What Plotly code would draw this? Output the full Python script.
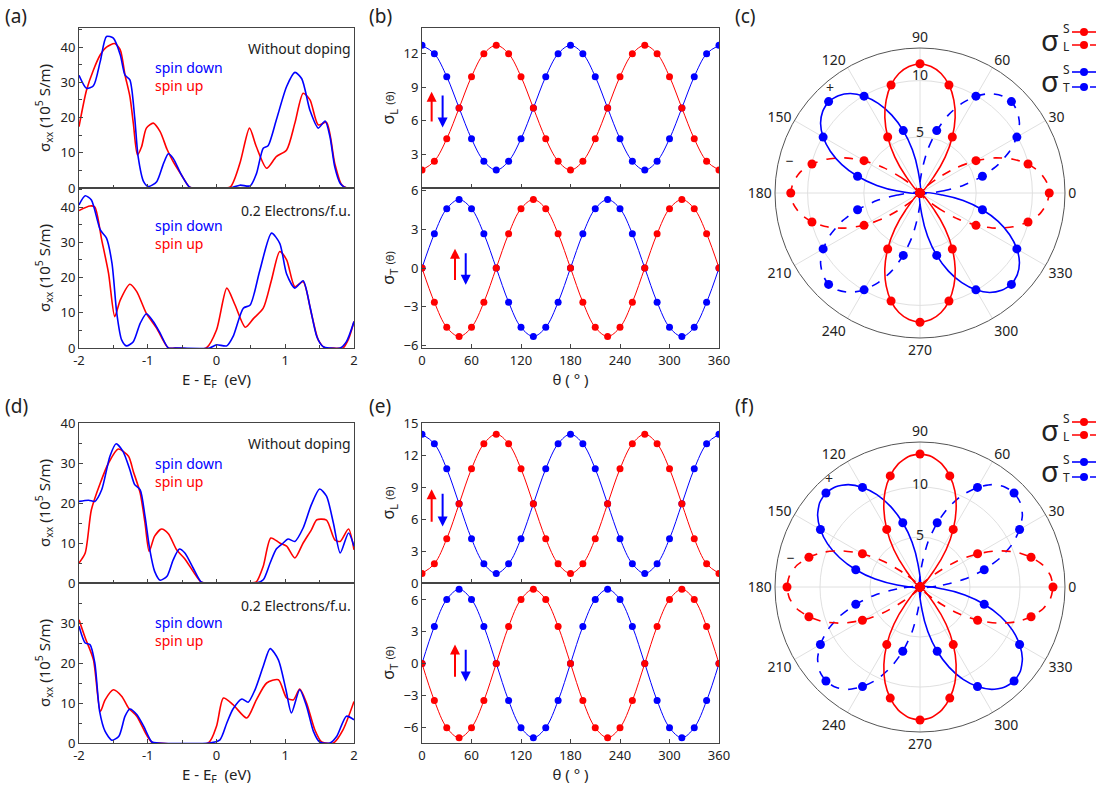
import plotly.graph_objects as go

W, H = 1112, 793
RED = "rgb(255,0,0)"
BLUE = "rgb(0,0,255)"
FONT = "Noto Sans"
TXT = "#222"

# ---------------- panel (a) data ----------------
a_top_down_E = [-2, -1.89, -1.79, -1.69, -1.6, -1.5, -1.4, -1.33, -1.26, -1.19, -1.14, -1.06, -0.99, -0.87, -0.77,
                -0.70, -0.63, -0.51, -0.39, -0.3, 0.0, 0.2, 0.34, 0.49, 0.58, 0.68, 0.75, 0.87, 1.02, 1.14, 1.24,
                1.36, 1.48, 1.58, 1.65, 1.72, 1.80, 1.89, 2]
a_top_down = [32, 28.3, 29, 36, 43, 42.5, 37.8, 32, 30.7, 20, 8.9, 1.8, 0.4, 1.8, 7,
              9.7, 8.4, 3.7, 0.2, 0, 0, 0, 0.8, 0.6, 4, 11.3, 12, 19.3, 28.8, 32.8, 31,
              22, 17, 19, 14.6, 6, 1.3, 0, 0]
a_top_up_E = [-2, -1.89, -1.79, -1.69, -1.6, -1.48, -1.40, -1.33, -1.26, -1.21, -1.15, -1.09, -1.02, -0.92, -0.82,
              -0.72, -0.63, -0.51, -0.39, -0.3, 0.0, 0.2, 0.34, 0.48, 0.58, 0.73, 0.87, 1.02, 1.14, 1.26, 1.36,
              1.48, 1.60, 1.72, 1.82, 1.9, 2]
a_top_up = [17.4, 27.8, 33.5, 37.8, 40, 41, 39.2, 32, 26, 18.4, 9.4, 11.7, 17, 18.4, 16,
            11, 7.5, 3.7, 0.2, 0, 0, 0.3, 7, 17, 11.7, 5.6, 8.9, 10.8, 18.4, 26.9, 25,
            17.9, 18.6, 7, 0.9, 0, 0]
a_bot_down_E = [-2, -1.91, -1.82, -1.69, -1.6, -1.52, -1.45, -1.38, -1.31, -1.21, -1.11, -1.02, -0.92, -0.82,
                -0.70, -0.6, -0.1, 0, 0.15, 0.24, 0.39, 0.49, 0.63, 0.80, 0.92, 1.02, 1.14, 1.26, 1.36, 1.46,
                1.55, 1.65, 1.80, 1.89, 2]
a_bot_down = [40.6, 43.2, 42, 33.5, 31.2, 24, 9.8, 2.3, 0.6, 1.8, 7, 9.7, 7.5, 4.2,
              0, 0, 0, 0.9, 0.6, 3.2, 11.3, 12.2, 22, 32.6, 29.7, 21, 17, 19.1, 11.7, 3.2,
              0.4, 0, 0, 1.8, 7.5]
a_bot_up_E = [-2, -1.84, -1.77, -1.67, -1.57, -1.48, -1.40, -1.26, -1.16, -1.02, -0.87, -0.70, -0.6, -0.15,
              0, 0.15, 0.27, 0.42, 0.54, 0.68, 0.80, 0.92, 1.02, 1.14, 1.26, 1.38, 1.48, 1.58, 1.7, 1.84,
              1.92, 2]
a_bot_up = [39, 40.3, 40, 30.7, 21.2, 8.9, 13.6, 18.1, 16, 9.8, 5.6, 0, 0, 0,
            5.1, 17, 12.2, 5.9, 8.4, 11.3, 19.3, 27.4, 25, 17.4, 18.8, 9.8, 2.3, 0, 0, 0,
            2.5, 7.5]

# ---------------- panel (d) data ----------------
d_top_down_E = [-2, -1.86, -1.77, -1.67, -1.55, -1.46, -1.36, -1.26, -1.19, -1.11, -1.04, -0.97, -0.90, -0.82,
                -0.72, -0.63, -0.54, -0.46, -0.34, -0.22, -0.1, 0.5, 0.58, 0.68, 0.78, 0.87, 0.97, 1.04, 1.14,
                1.26, 1.38, 1.50, 1.60, 1.70, 1.80, 1.92, 2]
d_top_down = [20.4, 20.7, 20.4, 23.3, 31.7, 34.8, 32.9, 28.3, 24.6, 23.3, 16.7, 8.3, 2.9, 0.7,
              1.7, 5.8, 8.5, 7.5, 3.75, 0.2, 0, 0, 0, 0.8, 5, 8.5, 10, 11, 10.4,
              13.75, 19.6, 23.5, 21.7, 15, 7.5, 12.5, 9.2]
d_top_up_E = [-2, -1.91, -1.82, -1.69, -1.57, -1.43, -1.28, -1.21, -1.11, -1.04, -0.98, -0.90, -0.80, -0.70,
              -0.58, -0.46, -0.34, -0.22, -0.1, 0.5, 0.58, 0.68, 0.79, 0.92, 1.02, 1.14, 1.26, 1.38, 1.46,
              1.60, 1.72, 1.80, 1.92, 2]
d_top_up = [5, 7.5, 18.3, 25, 30, 33.5, 31.7, 27.9, 22.5, 15, 7.9, 11.7, 13.5, 12.3,
            8.3, 6, 2.9, 0.2, 0, 0, 0.3, 4.2, 11.25, 10, 9.2, 6.25, 10, 13.3, 15.8,
            15.7, 10.8, 10.4, 13.5, 8.3]
d_bot_down_E = [-2, -1.91, -1.84, -1.77, -1.70, -1.62, -1.52, -1.42, -1.33, -1.26, -1.16, -1.06, -0.94, -0.85,
                -0.1, 0.05, 0.15, 0.24, 0.37, 0.46, 0.56, 0.68, 0.78, 0.90, 1.01, 1.09, 1.21, 1.31, 1.41,
                1.50, 1.65, 1.75, 1.89, 2]
d_bot_down = [29.2, 25, 24.6, 20, 7.9, 2.9, 0.7, 1.7, 6.7, 8.5, 7.1, 4.2, 0.25, 0,
              0, 0.8, 5, 8.5, 11, 10.2, 13.3, 19.2, 23.6, 20.8, 13.3, 7.5, 13.3, 9.2, 2.9,
              0.25, 0, 1.7, 6.7, 5.8]
d_bot_up_E = [-2, -1.91, -1.79, -1.69, -1.62, -1.50, -1.38, -1.28, -1.16, -1.02, -0.94, -0.85, -0.12, 0,
              0.10, 0.24, 0.44, 0.58, 0.73, 0.90, 1.02, 1.12, 1.21, 1.31, 1.43, 1.53, 1.70, 1.84, 2]
d_bot_up = [30.8, 26.3, 20.8, 7.9, 10.8, 13.3, 11.7, 8.75, 6.7, 2.1, 0.2, 0, 0, 4.2,
            11.25, 9.6, 6.25, 10.8, 15, 15.8, 11.25, 10.8, 13.5, 10, 3.3, 0.25, 0, 3.3, 10.4]

# ---------------- panels (b), (e) data ----------------
theta = [0, 15, 30, 45, 60, 75, 90, 105, 120, 135, 150, 165, 180, 195, 210, 225, 240, 255, 270, 285,
         300, 315, 330, 345, 360]
b_L_down = [12.75, 12.0, 9.95, 7.15, 4.4, 2.4, 1.6, 2.4, 4.4, 7.15, 9.95, 12.0, 12.75, 12.0, 9.95, 7.15,
            4.4, 2.4, 1.6, 2.4, 4.4, 7.15, 9.95, 12.0, 12.75]
b_L_up = [1.6, 2.4, 4.4, 7.15, 9.95, 12.0, 12.75, 12.0, 9.95, 7.15, 4.4, 2.4, 1.6, 2.4, 4.4, 7.15,
          9.95, 12.0, 12.75, 12.0, 9.95, 7.15, 4.4, 2.4, 1.6]
b_T_down = [0, 2.65, 4.6, 5.3, 4.6, 2.65, 0, -2.65, -4.6, -5.3, -4.6, -2.65, 0, 2.65, 4.6, 5.3,
            4.6, 2.65, 0, -2.65, -4.6, -5.3, -4.6, -2.65, 0]
b_T_up = [0, -2.65, -4.6, -5.3, -4.6, -2.65, 0, 2.65, 4.6, 5.3, 4.6, 2.65, 0, -2.65, -4.6, -5.3,
          -4.6, -2.65, 0, 2.65, 4.6, 5.3, 4.6, 2.65, 0]
e_L_down = [13.95, 13.05, 10.7, 7.42, 4.15, 1.8, 0.9, 1.8, 4.15, 7.42, 10.7, 13.05, 13.95, 13.05, 10.7,
            7.42, 4.15, 1.8, 0.9, 1.8, 4.15, 7.42, 10.7, 13.05, 13.95]
e_L_up = [0.9, 1.8, 4.15, 7.42, 10.7, 13.05, 13.95, 13.05, 10.7, 7.42, 4.15, 1.8, 0.9, 1.8, 4.15,
          7.42, 10.7, 13.05, 13.95, 13.05, 10.7, 7.42, 4.15, 1.8, 0.9]
e_T_down = [0, 3.5, 6.05, 7.0, 6.05, 3.5, 0, -3.5, -6.05, -7.0, -6.05, -3.5, 0, 3.5, 6.05, 7.0,
            6.05, 3.5, 0, -3.5, -6.05, -7.0, -6.05, -3.5, 0]
e_T_up = [0, -3.5, -6.05, -7.0, -6.05, -3.5, 0, 3.5, 6.05, 7.0, 6.05, 3.5, 0, -3.5, -6.05, -7.0,
          -6.05, -3.5, 0, 3.5, 6.05, 7.0, 6.05, 3.5, 0]

# ---------------- panels (c), (f) polar data ----------------
# lobe centre directions (deg) for each kind of lobe
lobe_centres = {"L_pos": (90, 270), "L_neg": (0, 180), "T_pos": (135, 315), "T_neg": (45, 225)}
# marker radii read at -45..45 deg about a lobe centre, every 15 deg
c_marker_r = [0, 5.75, 9.95, 11.5, 9.95, 5.75, 0]
f_marker_r = [0, 6.65, 11.5, 13.3, 11.5, 6.65, 0]
# curve radii read at -45..45 deg about a lobe centre, every 5 deg
c_curve_r = [0, 2.0, 3.9, 5.75, 7.4, 8.8, 9.95, 10.8, 11.3, 11.5, 11.3, 10.8, 9.95, 8.8, 7.4, 5.75, 3.9, 2.0, 0]
f_curve_r = [0, 2.3, 4.55, 6.65, 8.55, 10.2, 11.5, 12.5, 13.1, 13.3, 13.1, 12.5, 11.5, 10.2, 8.55, 6.65, 4.55,
             2.3, 0]
marker_offsets = [-45, -30, -15, 0, 15, 30, 45]
curve_offsets = [-45, -40, -35, -30, -25, -20, -15, -10, -5, 0, 5, 10, 15, 20, 25, 30, 35, 40, 45]
angular_ticks = [0, 30, 60, 90, 120, 150, 180, 210, 240, 270, 300, 330]

fig = go.Figure()


def px_x(x):
    return x / W


def px_y(y):
    return 1 - y / H


def curve(xs, ys, color, xa, ya, width=1.6):
    fig.add_trace(go.Scatter(x=xs, y=ys, mode="lines", xaxis=xa, yaxis=ya, showlegend=False,
                             line=dict(color=color, width=width, shape="spline", smoothing=0.7)))


def dots(xs, ys, color, xa, ya):
    fig.add_trace(go.Scatter(x=xs, y=ys, mode="lines+markers", xaxis=xa, yaxis=ya, showlegend=False,
                             line=dict(color=color, width=1, shape="spline", smoothing=1.0),
                             marker=dict(color=color, size=7)))


# (a)
curve(a_top_up_E, a_top_up, RED, "x", "y")
curve(a_top_down_E, a_top_down, BLUE, "x", "y")
curve(a_bot_up_E, a_bot_up, RED, "x2", "y2")
curve(a_bot_down_E, a_bot_down, BLUE, "x2", "y2")
# (d)
curve(d_top_up_E, d_top_up, RED, "x5", "y5")
curve(d_top_down_E, d_top_down, BLUE, "x5", "y5")
curve(d_bot_up_E, d_bot_up, RED, "x6", "y6")
curve(d_bot_down_E, d_bot_down, BLUE, "x6", "y6")
# (b)
dots(theta, b_L_down, BLUE, "x3", "y3")
dots(theta, b_L_up, RED, "x3", "y3")
dots(theta, b_T_down, BLUE, "x4", "y4")
dots(theta, b_T_up, RED, "x4", "y4")
# (e)
dots(theta, e_L_down, BLUE, "x7", "y7")
dots(theta, e_L_up, RED, "x7", "y7")
dots(theta, e_T_down, BLUE, "x8", "y8")
dots(theta, e_T_up, RED, "x8", "y8")


# polar
def lobe_pair(kind, curve_r, marker_r, color, dash, sub):
    c1, c2 = lobe_centres[kind]
    th_l, r_l, th_m, r_m = [], [], [], []
    for c in (c1, c2):
        th_l += [c + o for o in curve_offsets] + [None]
        r_l += list(curve_r) + [None]
        th_m += [c + o for o in marker_offsets]
        r_m += list(marker_r)
    fig.add_trace(go.Scatterpolar(r=r_l, theta=th_l, mode="lines", subplot=sub, showlegend=False,
                                  connectgaps=False,
                                  line=dict(color=color, width=1.6, dash=dash, shape="spline", smoothing=0.6)))
    fig.add_trace(go.Scatterpolar(r=r_m, theta=th_m, mode="markers", subplot=sub, showlegend=False,
                                  marker=dict(color=color, size=9)))


for sub, cr, mr in (("polar", c_curve_r, c_marker_r), ("polar2", f_curve_r, f_marker_r)):
    lobe_pair("T_neg", cr, mr, BLUE, "dash", sub)
    lobe_pair("T_pos", cr, mr, BLUE, "solid", sub)
    lobe_pair("L_neg", cr, mr, RED, "dash", sub)
    lobe_pair("L_pos", cr, mr, RED, "solid", sub)

fig.add_trace(go.Scatterpolar(r=[10.4, 5.3, 12.2, 11.9], theta=[90, 90, 131, 167], mode="text",
                              text=["10", "5", "+", "−"], subplot="polar", showlegend=False,
                              textfont=dict(size=14, color=TXT, family=FONT)))
fig.add_trace(go.Scatterpolar(r=[10.2, 5.1, 14.0, 13.2], theta=[90, 90, 130.5, 168], mode="text",
                              text=["10", "5", "+", "−"], subplot="polar2", showlegend=False,
                              textfont=dict(size=14, color=TXT, family=FONT)))

# ---------------- layout ----------------
axis_common = dict(showline=True, linecolor="#444", linewidth=1, mirror=True, ticks="inside", ticklen=4,
                   tickcolor="#444", showgrid=False, zeroline=False, automargin=False,
                   tickfont=dict(size=13, color=TXT, family=FONT))

xa_dom = [px_x(79), px_x(354)]
xb_dom = [px_x(422), px_x(719)]
top1 = [px_y(188), px_y(28)]
bot1 = [px_y(348), px_y(188)]
top2 = [px_y(583), px_y(423)]
bot2 = [px_y(743), px_y(583)]

E_ticks = dict(tickvals=[-2, -1, 0, 1, 2], ticktext=["-2", "-1", "0", "1", "2"],
               minor=dict(dtick=0.5, ticks="inside", ticklen=3, tickcolor="#444"))
th_ticks = dict(tickvals=[0, 60, 120, 180, 240, 300, 360])
sig_title = dict(text="σ<sub>xx</sub> (10<sup>5</sup> S/m)", font=dict(size=15, color=TXT, family=FONT),
                 standoff=6)
E_title = dict(text="E - E<sub>F</sub>  (eV)", font=dict(size=15, color=TXT, family=FONT), standoff=4)
th_title = dict(text="θ ( ° )", font=dict(size=15, color=TXT, family=FONT), standoff=4)
L_title = dict(text="σ<sub>L</sub> <span style='font-size:11px'>(θ)</span>",
               font=dict(size=16, color=TXT, family=FONT), standoff=4)
T_title = dict(text="σ<sub>T</sub> <span style='font-size:11px'>(θ)</span>",
               font=dict(size=16, color=TXT, family=FONT), standoff=4)
y_minor = dict(dtick=5, ticks="inside", ticklen=3, tickcolor="#444")

layout = dict(
    width=W, height=H, margin=dict(l=0, r=0, t=0, b=0), paper_bgcolor="white", plot_bgcolor="white",
    font=dict(family=FONT, color=TXT),
    # (a)
    xaxis=dict(axis_common, domain=xa_dom, anchor="y", range=[-2, 2], showticklabels=False, **E_ticks),
    yaxis=dict(axis_common, domain=top1, anchor="x", range=[0, 45.4], tickvals=[0, 10, 20, 30, 40],
               minor=y_minor, title=sig_title),
    xaxis2=dict(axis_common, domain=xa_dom, anchor="y2", range=[-2, 2], title=E_title, **E_ticks),
    yaxis2=dict(axis_common, domain=bot1, anchor="x2", range=[0, 45.4], tickvals=[0, 10, 20, 30, 40],
                minor=y_minor, title=sig_title),
    # (b)
    xaxis3=dict(axis_common, domain=xb_dom, anchor="y3", range=[0, 360], showticklabels=False, **th_ticks),
    yaxis3=dict(axis_common, domain=top1, anchor="x3", range=[0, 14.3], tickvals=[3, 6, 9, 12], title=L_title),
    xaxis4=dict(axis_common, domain=xb_dom, anchor="y4", range=[0, 360], title=th_title, **th_ticks),
    yaxis4=dict(axis_common, domain=bot1, anchor="x4", range=[-6.2, 6.2], tickvals=[-6, -3, 0, 3, 6],
                title=T_title),
    # (d)
    xaxis5=dict(axis_common, domain=xa_dom, anchor="y5", range=[-2, 2], showticklabels=False, **E_ticks),
    yaxis5=dict(axis_common, domain=top2, anchor="x5", range=[0, 40], tickvals=[0, 10, 20, 30, 40],
                minor=y_minor, title=sig_title),
    xaxis6=dict(axis_common, domain=xa_dom, anchor="y6", range=[-2, 2], title=E_title, **E_ticks),
    yaxis6=dict(axis_common, domain=bot2, anchor="x6", range=[0, 40], tickvals=[0, 10, 20, 30],
                minor=y_minor, title=sig_title),
    # (e)
    xaxis7=dict(axis_common, domain=xb_dom, anchor="y7", range=[0, 360], showticklabels=False, **th_ticks),
    yaxis7=dict(axis_common, domain=top2, anchor="x7", range=[0, 15], tickvals=[0, 3, 6, 9, 12, 15],
                title=L_title),
    xaxis8=dict(axis_common, domain=xb_dom, anchor="y8", range=[0, 360], title=th_title, **th_ticks),
    yaxis8=dict(axis_common, domain=bot2, anchor="x8", range=[-7.5, 7.6], tickvals=[-6, -3, 0, 3, 6],
                title=T_title),
)

polar_common = dict(
    bgcolor="white",
    angularaxis=dict(rotation=0, direction="counterclockwise", tickvals=angular_ticks,
                     ticktext=[str(t) for t in angular_ticks], showline=True, linecolor="#555", linewidth=1,
                     gridcolor="#e0e0e0", ticks="", tickfont=dict(size=14, color=TXT, family=FONT)),
)
layout["polar"] = dict(polar_common, domain=dict(x=[px_x(775), px_x(1065)], y=[px_y(338), px_y(48)]),
                       radialaxis=dict(range=[0, 12.9], tickvals=[5, 10], showticklabels=False, ticks="",
                                       showline=False, gridcolor="#e0e0e0", angle=90))
layout["polar2"] = dict(polar_common, domain=dict(x=[px_x(775), px_x(1065)], y=[px_y(732), px_y(442)]),
                        radialaxis=dict(range=[0, 14.5], tickvals=[5, 10], showticklabels=False, ticks="",
                                        showline=False, gridcolor="#e0e0e0", angle=90))
fig.update_layout(**layout)

# ---------------- annotations ----------------
ann = []


def note(text, x, y, xref, yref, color=TXT, size=15, xanchor="left", yanchor="middle"):
    ann.append(dict(text=text, x=x, y=y, xref=xref, yref=yref, showarrow=False, xanchor=xanchor,
                    yanchor=yanchor, align="left", font=dict(size=size, color=color, family=FONT)))


# panel labels
for lab, x, y in (("(a)", 3, 16), ("(b)", 367, 16), ("(c)", 733, 16), ("(d)", 3, 406), ("(e)", 367, 406),
                  ("(f)", 733, 406)):
    note(lab, px_x(x), px_y(y), "paper", "paper", size=19)

SPIN = ("<span style='color:rgb(0,0,255)'>spin down</span><br>"
        "<span style='color:rgb(255,0,0)'>spin up</span>")
note("Without doping", 1.98, 39.5, "x", "y", size=14, xanchor="right")
note(SPIN, -0.92, 31.6, "x", "y", size=14)
note("0.2 Electrons/f.u.", 1.98, 39, "x2", "y2", size=14, xanchor="right")
note(SPIN, -0.92, 32.1, "x2", "y2", size=14)
note("Without doping", 1.98, 35, "x5", "y5", size=14, xanchor="right")
note(SPIN, -0.92, 27.7, "x5", "y5", size=14)
note("0.2 Electrons/f.u.", 1.98, 34.5, "x6", "y6", size=14, xanchor="right")
note(SPIN, -0.92, 27.8, "x6", "y6", size=14)


def arrow(x, y0, y1, xa, ya, color):
    ann.append(dict(x=x, y=y1, ax=x, ay=y0, xref=xa, yref=ya, axref=xa, ayref=ya, text="", showarrow=True,
                    arrowhead=2, arrowsize=1, arrowwidth=2, arrowcolor=color))


arrow(11.7, 5.8, 8.6, "x3", "y3", RED)
arrow(25, 8.4, 5.4, "x3", "y3", BLUE)
arrow(40, -1.05, 1.5, "x4", "y4", RED)
arrow(53, 1.25, -1.3, "x4", "y4", BLUE)
arrow(11.7, 5.6, 8.8, "x7", "y7", RED)
arrow(25, 8.5, 5.3, "x7", "y7", BLUE)
arrow(40, -1.4, 1.8, "x8", "y8", RED)
arrow(53, 1.45, -1.7, "x8", "y8", BLUE)

# polar legends
shapes = []
for dy in (0, 390):
    for (sub, color, ys) in (("L", RED, (32, 45)), ("T", BLUE, (72, 87))):
        ymid = (ys[0] + ys[1]) / 2 + dy
        note("σ", px_x(1061), px_y(ymid + 1), "paper", "paper", size=29, xanchor="right")
        note("S", px_x(1061), px_y(ymid - 10), "paper", "paper", size=12)
        note(sub, px_x(1061), px_y(ymid + 8), "paper", "paper", size=12)
        for k, yy in enumerate(ys):
            shapes.append(dict(type="line", xref="paper", yref="paper", x0=px_x(1072), x1=px_x(1096),
                               y0=px_y(yy + dy), y1=px_y(yy + dy),
                               line=dict(color=color, width=1.6, dash="solid" if k == 0 else "dash")))
            shapes.append(dict(type="circle", xref="paper", yref="paper", xsizemode="pixel",
                               ysizemode="pixel", xanchor=px_x(1084), yanchor=px_y(yy + dy),
                               x0=-4, x1=4, y0=-4, y1=4, fillcolor=color, line=dict(color=color, width=0)))

fig.update_layout(annotations=ann, shapes=shapes)
fig.write_html("out.html", config={"displayModeBar": False},
               post_script="document.body.style.margin='0';document.body.style.overflow='hidden';")
